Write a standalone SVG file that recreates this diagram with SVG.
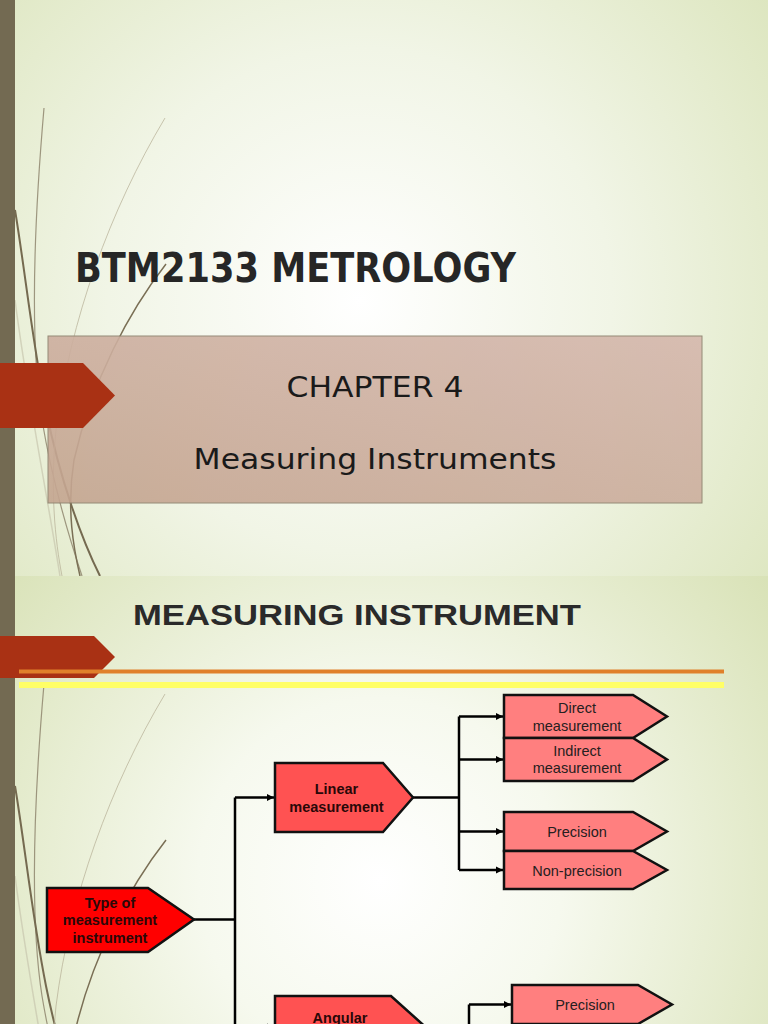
<svg xmlns="http://www.w3.org/2000/svg" xmlns:xlink="http://www.w3.org/1999/xlink" width="768" height="1024" viewBox="0 0 768 1024">
<defs>
<radialGradient id="bg1" gradientUnits="userSpaceOnUse" cx="360" cy="300" r="560">
<stop offset="0" stop-color="#ffffff"/><stop offset="0.45" stop-color="#f1f5e6"/><stop offset="1" stop-color="#d9e3b8"/>
</radialGradient>
<radialGradient id="bg2" gradientUnits="userSpaceOnUse" cx="380" cy="880" r="520">
<stop offset="0" stop-color="#ffffff"/><stop offset="0.35" stop-color="#f6f9ee"/><stop offset="1" stop-color="#d6e0b2"/>
</radialGradient>
<linearGradient id="boxg" x1="1" y1="0" x2="0" y2="1">
<stop offset="0" stop-color="#d5b8ad"/><stop offset="1" stop-color="#c4a590"/>
</linearGradient>
<clipPath id="c1"><rect x="0" y="0" width="768" height="576"/></clipPath>
<clipPath id="c2"><rect x="0" y="576" width="768" height="448"/></clipPath>
<marker id="ah" markerUnits="userSpaceOnUse" markerWidth="8" markerHeight="8" refX="7" refY="4" orient="auto">
<path d="M0,0.5 L7,4 L0,7.5 Z" fill="#000"/>
</marker>
<g id="wisp" fill="none">
<path d="M44,108 C36,200 28,330 42,420 C52,480 70,540 82,576" stroke="#8a8068" stroke-width="1.2" opacity="0.8"/>
<path d="M15,210 C25,270 32,340 46,410 C60,480 82,540 100,576" stroke="#756a50" stroke-width="2"/>
<path d="M165,118 C110,210 70,320 56,430 C50,490 55,540 62,576" stroke="#b5ae94" stroke-width="1" opacity="0.7"/>
<path d="M166,264 C130,310 92,380 74,460 C66,510 74,550 80,576" stroke="#7a6f55" stroke-width="1.5"/>
<path d="M15,300 C28,400 48,500 60,576" stroke="#c8c6ae" stroke-width="1.5" opacity="0.7"/>
</g>
<style>
.bar{fill:#736a52}
.tab{fill:#a93114}
.node{stroke:#111;stroke-width:2.5;stroke-linejoin:miter}
.n0{fill:#ff0000}
.n1{fill:#ff5252}
.n2{fill:#ff7f7f}
.tb{font-family:"Liberation Sans",Arial,sans-serif;font-weight:bold;font-size:14.5px;fill:#2a0808;text-anchor:middle}
.tr{font-family:"Liberation Sans",Arial,sans-serif;font-size:14.5px;fill:#262020;text-anchor:middle}
.conn{fill:none;stroke:#000;stroke-width:2.5}
</style>
</defs>

<!-- slide 1 -->
<rect x="0" y="0" width="768" height="576" fill="url(#bg1)"/>
<g clip-path="url(#c1)"><use xlink:href="#wisp"/></g>
<!-- slide 2 background -->
<rect x="0" y="576" width="768" height="448" fill="url(#bg2)"/>
<g clip-path="url(#c2)"><use xlink:href="#wisp" transform="translate(0,576)"/></g>
<rect class="bar" x="0" y="0" width="15" height="1024"/>

<rect x="48" y="336" width="654" height="167" fill="url(#boxg)" stroke="#8c806c" stroke-width="1" opacity="0.9"/>
<path class="tab" d="M0,363 H83 L115,395.5 L83,428 H0 Z"/>
<text x="75" y="282" font-family="DejaVu Sans,Verdana,sans-serif" font-weight="bold" font-size="41" fill="#262626" textLength="441" lengthAdjust="spacingAndGlyphs">BTM2133 METROLOGY</text>
<text x="375" y="397" font-family="DejaVu Sans,Verdana,sans-serif" font-size="29" fill="#1a1a1a" text-anchor="middle" textLength="177" lengthAdjust="spacingAndGlyphs">CHAPTER 4</text>
<text x="375" y="469" font-family="DejaVu Sans,Verdana,sans-serif" font-size="29" fill="#1a1a1a" text-anchor="middle" textLength="363" lengthAdjust="spacingAndGlyphs">Measuring Instruments</text>

<!-- slide 2 -->
<path class="tab" d="M0,636 H94 L115,657 L94,678 H0 Z"/>
<text x="133" y="625" font-family="Liberation Sans,Arial,sans-serif" font-weight="bold" font-size="30" fill="#2a2a2a" textLength="448" lengthAdjust="spacingAndGlyphs">MEASURING INSTRUMENT</text>
<rect x="19" y="669.5" width="705" height="4" fill="#e0802a"/>
<rect x="19" y="682" width="705" height="6" fill="#ffff66"/>

<g id="connectors">
<path class="conn" d="M194,919.5 H235"/>
<path class="conn" d="M235,797.5 V1030"/>
<path class="conn" d="M235,797.5 H274" marker-end="url(#ah)"/>
<path class="conn" d="M235,1027 H274" marker-end="url(#ah)"/>
<path class="conn" d="M413,797.5 H459"/>
<path class="conn" d="M459,716.5 V870"/>
<path class="conn" d="M459,716.5 H503" marker-end="url(#ah)"/>
<path class="conn" d="M459,759.5 H503" marker-end="url(#ah)"/>
<path class="conn" d="M459,831.5 H503" marker-end="url(#ah)"/>
<path class="conn" d="M459,870 H503" marker-end="url(#ah)"/>
<path class="conn" d="M469,1004.5 V1030"/>
<path class="conn" d="M469,1004.5 H511" marker-end="url(#ah)"/>
</g>

<g id="node-root">
<path class="node n0" d="M47,888 H148 L194,919.5 L148,952 H47 Z"/>
<text class="tb" x="110" y="907.5">Type of</text>
<text class="tb" x="110" y="925">measurement</text>
<text class="tb" x="110" y="942.5">instrument</text>
</g>
<g id="node-linear">
<path class="node n1" d="M275,763 H383 L413,797.5 L383,832 H275 Z"/>
<text class="tb" x="336.5" y="794">Linear</text>
<text class="tb" x="336.5" y="811.5">measurement</text>
</g>
<g id="node-angular">
<path class="node n1" d="M275,996 H391 L430,1031 L391,1066 H275 Z"/>
<text class="tb" x="340" y="1023">Angular</text>
</g>
<g id="node-direct">
<path class="node n2" d="M504,695 H633 L667,716.5 L633,738 H504 Z"/>
<text class="tr" x="577" y="712.5">Direct</text>
<text class="tr" x="577" y="730.5">measurement</text>
</g>
<g id="node-indirect">
<path class="node n2" d="M504,738 H633 L667,759.5 L633,781 H504 Z"/>
<text class="tr" x="577" y="755.5">Indirect</text>
<text class="tr" x="577" y="773">measurement</text>
</g>
<g id="node-precision">
<path class="node n2" d="M504,812 H633 L667,831.5 L633,851 H504 Z"/>
<text class="tr" x="577" y="837">Precision</text>
</g>
<g id="node-nonprecision">
<path class="node n2" d="M504,851 H633 L667,870 L633,889 H504 Z"/>
<text class="tr" x="577" y="875.5">Non-precision</text>
</g>
<g id="node-precision2">
<path class="node n2" d="M512,985 H638 L672,1004.5 L638,1024 H512 Z"/>
<text class="tr" x="585" y="1009.5">Precision</text>
</g>
</svg>
